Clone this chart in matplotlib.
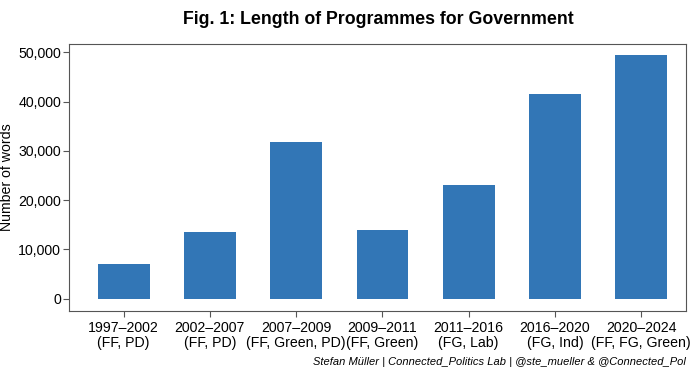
import matplotlib.pyplot as plt
from matplotlib.ticker import FuncFormatter

plt.rcParams['font.family'] = ['Liberation Sans', 'DejaVu Sans']

periods = ['1997–2002', '2002–2007', '2007–2009', '2009–2011', '2011–2016', '2016–2020', '2020–2024']
parties = ['(FF, PD)', '(FF, PD)', '(FF, Green, PD)', '(FF, Green)', '(FG, Lab)', '(FG, Ind)', '(FF, FG, Green)']
words = [7100, 13600, 31800, 14000, 23100, 41500, 49400]

labels = [p + '\n' + q for p, q in zip(periods, parties)]
x = list(range(len(words)))

fig = plt.figure(figsize=(7, 3.76), dpi=100)
ax = fig.add_axes([0.099, 0.173, 0.881, 0.71])
ax.bar(x, words, width=0.6, color='#3276b6')

ax.set_xlim(-0.63, 6.52)
ax.set_ylim(-2500, 51700)
ax.set_yticks([0, 10000, 20000, 30000, 40000, 50000])
ax.yaxis.set_major_formatter(FuncFormatter(lambda v, p: f'{int(v):,}'))
ax.set_xticks(x)
ax.set_xticklabels(labels, fontsize=10.2, color='black', linespacing=1.1)
ax.tick_params(axis='y', labelsize=10.2, labelcolor='black', pad=2)
ax.tick_params(axis='both', color='#555555', length=4, width=0.8)
for s in ax.spines.values():
    s.set_color('#555555')
    s.set_linewidth(0.8)
ax.set_ylabel('Number of words', fontsize=10.2, labelpad=3)

fig.text(0.54, 0.97, 'Fig. 1: Length of Programmes for Government', ha='center', va='top',
         fontsize=12.8, fontweight='bold')
fig.text(0.98, 0.025, 'Stefan Müller | Connected_Politics Lab | @ste_mueller & @Connected_Pol',
         ha='right', va='bottom', fontsize=8, style='italic')

fig.savefig('out.png', dpi=100)
